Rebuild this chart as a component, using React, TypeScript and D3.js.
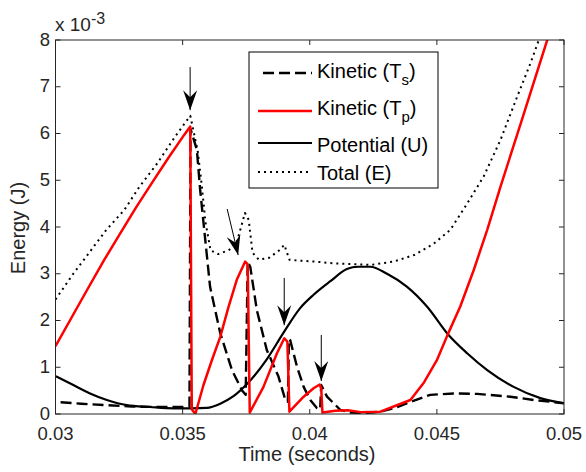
import React from "react";
import * as d3 from "d3";

// ---- data (energy values in units of 1e-3 J) ----
const X_TICKS = [0.03, 0.035, 0.04, 0.045, 0.05];
const X_TICK_LABELS = ["0.03", "0.035", "0.04", "0.045", "0.05"];
const Y_TICKS = [0, 1, 2, 3, 4, 5, 6, 7, 8];
const Y_TICK_LABELS = ["0", "1", "2", "3", "4", "5", "6", "7", "8"];

const kineticTs: [number, number][] = [
  [0.0302, 0.25], [0.031, 0.22], [0.032, 0.19], [0.033, 0.16], [0.034, 0.15], [0.035, 0.15],
  [0.03527, 0.16], [0.03531, 6.1], [0.03556, 5.65], [0.03569, 4.79], [0.03582, 4.1],
  [0.03608, 2.72], [0.03648, 1.73], [0.03694, 0.94], [0.03733, 0.51], [0.03748, 0.41],
  [0.03756, 3.25], [0.03766, 3.15], [0.03792, 2.22], [0.03831, 1.37], [0.03877, 0.8],
  [0.03904, 0.3], [0.03914, 0.26], [0.03918, 1.6], [0.03923, 1.58], [0.0395, 1.01],
  [0.03976, 0.58], [0.04002, 0.3], [0.04028, 0.13], [0.04041, 0.1], [0.04045, 0.62],
  [0.04068, 0.37], [0.04094, 0.23], [0.0412, 0.09], [0.0416, 0.03], [0.0422, 0.02],
  [0.04278, 0.05], [0.0433, 0.12], [0.04396, 0.26], [0.04474, 0.41], [0.04566, 0.44],
  [0.04658, 0.43], [0.04789, 0.37], [0.04881, 0.3], [0.05, 0.23],
];

const kineticTp: [number, number][] = [
  [0.03, 1.45], [0.03065, 2.08], [0.03128, 2.69], [0.03191, 3.29], [0.03254, 3.86],
  [0.03317, 4.42], [0.0338, 4.95], [0.03443, 5.47], [0.03506, 5.97],
  [0.0353, 6.15], [0.03536, 0.1], [0.0355, 0.0], [0.03582, 0.62], [0.03615, 1.15],
  [0.03648, 1.65], [0.0368, 2.28], [0.03713, 2.87], [0.03746, 3.26], [0.03756, 3.2],
  [0.03764, 0.03], [0.03818, 0.58], [0.03871, 1.3], [0.039, 1.62], [0.03912, 1.55],
  [0.0392, 0.05], [0.03976, 0.37], [0.04015, 0.55], [0.04039, 0.63], [0.04045, 0.55],
  [0.0405, 0.03], [0.041, 0.07], [0.0415, 0.08], [0.042, 0.04], [0.04278, 0.05],
  [0.0433, 0.16], [0.04396, 0.3], [0.0445, 0.68], [0.045, 1.15], [0.04545, 1.73],
  [0.04592, 2.3], [0.04645, 3.08], [0.04698, 3.94], [0.0475, 4.86], [0.04829, 6.2],
  [0.04934, 8.0], [0.05, 9.1],
];

const potentialU: [number, number][] = [
  [0.03, 0.81], [0.0307, 0.62], [0.03136, 0.44], [0.03202, 0.3], [0.0328, 0.19],
  [0.03372, 0.15], [0.03464, 0.12], [0.03536, 0.12], [0.03595, 0.13], [0.03648, 0.22],
  [0.037, 0.38], [0.03753, 0.64], [0.03831, 1.17], [0.03897, 1.74], [0.03963, 2.27],
  [0.04015, 2.55], [0.04081, 2.84], [0.04146, 3.1], [0.0419, 3.15], [0.04238, 3.15],
  [0.04304, 3.0], [0.04383, 2.72], [0.04461, 2.3], [0.04546, 1.69], [0.04619, 1.3],
  [0.04698, 0.94], [0.04802, 0.58], [0.04907, 0.34], [0.05, 0.23],
];

const totalE: [number, number][] = [
  [0.03, 2.45], [0.0307, 3.0], [0.0312, 3.36], [0.032, 3.94], [0.0327, 4.36], [0.0333, 4.86],
  [0.034, 5.36], [0.0347, 5.93], [0.0353, 6.38], [0.03545, 6.0], [0.0356, 5.6], [0.03575, 4.9],
  [0.0359, 4.1], [0.0361, 3.5], [0.0364, 3.42], [0.0368, 3.5], [0.0371, 3.62], [0.0373, 4.0],
  [0.03745, 4.3], [0.0376, 4.15], [0.03775, 3.45], [0.038, 3.3], [0.0384, 3.34], [0.0388, 3.5],
  [0.039, 3.62], [0.0392, 3.3], [0.0396, 3.28], [0.0402, 3.26], [0.041, 3.22], [0.0424, 3.19],
  [0.0433, 3.26], [0.0441, 3.4], [0.04487, 3.64], [0.04553, 3.94], [0.04619, 4.5],
  [0.04684, 5.08], [0.0475, 5.86], [0.04816, 6.79], [0.04868, 7.5], [0.04901, 8.0], [0.05, 9.8],
];

// arrows: [tStart, eStart, tEnd, eEnd]
const arrows: [number, number, number, number][] = [
  [0.035295, 7.42, 0.035295, 6.5],
  [0.036752, 4.385, 0.037185, 3.4],
  [0.038996, 2.91, 0.038996, 1.9],
  [0.040453, 1.69, 0.040453, 0.706],
];

const LEGEND_LABELS = [
  { main: "Kinetic (T", sub: "s", end: ")" },
  { main: "Kinetic (T", sub: "p", end: ")" },
  { main: "Potential (U)", sub: "", end: "" },
  { main: "Total (E)", sub: "", end: "" },
];

const W = 586;
const H = 472;
const FONT = "'Liberation Sans', Arial, Helvetica, sans-serif";

export default function App() {
  const x = d3.scaleLinear().domain([0.03, 0.05]).range([55.5, 564]);
  const y = d3.scaleLinear().domain([0, 8]).range([414, 40]);
  const [x0, x1] = x.range();
  const [y0, y1] = y.range();

  const lin = d3.line<[number, number]>().x((d) => x(d[0])).y((d) => y(d[1]));
  const smooth = d3
    .line<[number, number]>()
    .x((d) => x(d[0]))
    .y((d) => y(d[1]))
    .curve(d3.curveMonotoneX);

  const styles = [
    { stroke: "#000", width: 2.4, dash: "11 5" },
    { stroke: "#ff0000", width: 2.5, dash: "" },
    { stroke: "#000", width: 2.2, dash: "" },
    { stroke: "#000", width: 2, dash: "2 4" },
  ];

  const arrowHead = (xs: number, ys: number, xe: number, ye: number) => {
    const ang = Math.atan2(ye - ys, xe - xs);
    const L = 20, hw = 7, notch = 13;
    const pts: [number, number][] = [
      [0, 0],
      [-L, -hw],
      [-notch, 0],
      [-L, hw],
    ];
    const c = Math.cos(ang), s = Math.sin(ang);
    return (
      "M" +
      pts.map(([px, py]) => `${xe + px * c - py * s},${ye + px * s + py * c}`).join("L") +
      "Z"
    );
  };

  return (
    <svg
      width={W}
      height={H}
      style={{ position: "absolute", left: 0, top: 0, background: "#fff" }}
      fontFamily={FONT}
    >
      <rect x={0} y={0} width={W} height={H} fill="#fff" />
      <defs>
        <clipPath id="plotclip">
          <rect x={x0} y={y1} width={x1 - x0} height={y0 - y1} />
        </clipPath>
      </defs>

      <g clipPath="url(#plotclip)" fill="none" strokeLinejoin="round">
        <path d={smooth(potentialU) || ""} stroke={styles[2].stroke} strokeWidth={styles[2].width} />
        <path
          d={lin(kineticTs) || ""}
          stroke={styles[0].stroke}
          strokeWidth={styles[0].width}
          strokeDasharray={styles[0].dash}
        />
        <path
          d={lin(totalE) || ""}
          stroke={styles[3].stroke}
          strokeWidth={styles[3].width}
          strokeDasharray={styles[3].dash}
        />
        <path d={lin(kineticTp) || ""} stroke={styles[1].stroke} strokeWidth={styles[1].width} />
      </g>

      {/* arrows */}
      {arrows.map((a, i) => {
        const xs = x(a[0]), ys = y(a[1]), xe = x(a[2]), ye = y(a[3]);
        return (
          <g key={i}>
            <line x1={xs} y1={ys} x2={xe} y2={ye} stroke="#000" strokeWidth={1} />
            <path d={arrowHead(xs, ys, xe, ye)} fill="#000" />
          </g>
        );
      })}

      {/* axes box */}
      <rect x={x0} y={y1} width={x1 - x0} height={y0 - y1} fill="none" stroke="#262626" strokeWidth={1} />
      {X_TICKS.map((t, i) => (
        <g key={"xt" + i}>
          <line x1={x(t)} x2={x(t)} y1={y0} y2={y0 - 5} stroke="#262626" />
          <line x1={x(t)} x2={x(t)} y1={y1} y2={y1 + 5} stroke="#262626" />
          <text x={x(t)} y={440.3} textAnchor="middle" fontSize={18.5} fill="#262626">
            {X_TICK_LABELS[i]}
          </text>
        </g>
      ))}
      {Y_TICKS.map((v, i) => (
        <g key={"yt" + i}>
          <line x1={x0} x2={x0 + 5} y1={y(v)} y2={y(v)} stroke="#262626" />
          <line x1={x1} x2={x1 - 5} y1={y(v)} y2={y(v)} stroke="#262626" />
          <text x={50} y={y(v) + 5.5} textAnchor="end" fontSize={18.5} fill="#262626">
            {Y_TICK_LABELS[i]}
          </text>
        </g>
      ))}

      {/* exponent label */}
      <text x={55} y={31} fontSize={19} fill="#262626">
        x 10
        <tspan dy={-7} fontSize={16}>-3</tspan>
      </text>

      {/* axis labels */}
      <text x={307} y={461} textAnchor="middle" fontSize={20} fill="#262626">
        Time (seconds)
      </text>
      <text
        transform={`translate(24.5,228) rotate(-90)`}
        textAnchor="middle"
        fontSize={20}
        fill="#262626"
      >
        Energy (J)
      </text>

      {/* legend */}
      <g>
        <rect x={249} y={52} width={189} height={136} fill="#fff" stroke="#000" strokeWidth={1} />
        {LEGEND_LABELS.map((lab, i) => {
          const ly = [73, 111, 143, 172][i];
          const by = [78, 115, 152, 180][i];
          const st = styles[i];
          return (
            <g key={"lg" + i}>
              <line
                x1={i === 0 ? 263 : 258}
                x2={312}
                y1={ly}
                y2={ly}
                stroke={st.stroke}
                strokeWidth={st.width}
                strokeDasharray={st.dash || undefined}
              />
              <text x={317} y={by} fontSize={20} fill="#000">
                {lab.main}
                {lab.sub ? (
                  <>
                    <tspan dy={7} fontSize={15}>{lab.sub}</tspan>
                    <tspan dy={-7}>{lab.end}</tspan>
                  </>
                ) : null}
              </text>
            </g>
          );
        })}
      </g>
    </svg>
  );
}
